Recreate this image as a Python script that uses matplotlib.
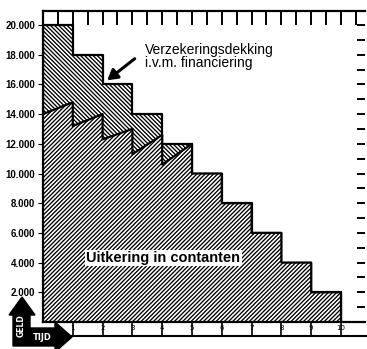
import numpy as np
import matplotlib
matplotlib.use("Agg")
import matplotlib.pyplot as plt
from matplotlib.patches import Polygon
from matplotlib.lines import Line2D

# ---- data ----
years = np.arange(0, 11)
total_cover = [20000, 18000, 16000, 14000, 12000, 10000, 8000, 6000, 4000, 2000]
cash_start = [14000, 13200, 12300, 11300, 10600, 10000, 8000, 6000, 4000, 2000]
cash_end = [14800, 14000, 13000, 12600, 12000, 10000, 8000, 6000, 4000, 2000]
ytick_vals = [2000, 4000, 6000, 8000, 10000, 12000, 14000, 16000, 18000, 20000]
ytick_labels = ["2.000", "4.000", "6.000", "8.000", "10.000", "12.000",
                "14.000", "16.000", "18.000", "20.000"]
xtick_labels = [str(i) for i in range(1, 11)]

plt.rcParams['hatch.linewidth'] = 0.95

W, H = 367, 349
fig = plt.figure(figsize=(W / 100, H / 100), dpi=100)

def fx(x):
    return x / W

def fy(y):
    return 1 - y / H

ax_l, ax_r, ax_t, ax_b = 43, 365, 11, 322
ax = fig.add_axes([fx(ax_l), fy(ax_b), (ax_r - ax_l) / W, (ax_b - ax_t) / H])
xmax = (ax_r - ax_l) / 29.8
ymax = (ax_b - ax_t) / 14.85 * 1000
ax.set_xlim(0, xmax)
ax.set_ylim(0, ymax)

# total cover staircase
tx = years
ty = total_cover + [total_cover[-1]]
ax.fill_between(tx, 0, ty, step='post', facecolor='white', edgecolor='black',
                hatch='\\' * 8, linewidth=1.6, zorder=2)

# cash value sawtooth
cx, cy = [], []
for i in range(len(cash_start)):
    cx += [years[i], years[i + 1]]
    cy += [cash_start[i], cash_end[i]]
ax.fill_between(cx, 0, cy, facecolor='white', edgecolor='black',
                hatch='/' * 8, linewidth=1.6, zorder=3)

# spines
for s in ['left', 'top', 'bottom']:
    ax.spines[s].set_linewidth(1.6)
ax.spines['right'].set_visible(False)

# y labels
ax.set_yticks(ytick_vals)
ax.set_yticklabels(ytick_labels, fontfamily='Liberation Sans', fontweight='bold', fontsize=7)
ax.tick_params(axis='y', left=False, pad=2)

# bottom ticks
ax.set_xticks(years[1:])
ax.set_xticklabels(xtick_labels, fontsize=5, fontfamily='DejaVu Sans')
ax.tick_params(axis='x', direction='out', length=10, width=1.2, pad=-8)

# top ticks
axt = ax.twiny()
axt.set_xlim(0, xmax)
axt.set_xticks(np.arange(0.5, 10.6, 0.5))
axt.tick_params(axis='x', direction='in', length=10, width=1.4, labeltop=False)
for s in axt.spines.values():
    s.set_visible(False)

# right ticks
axr = ax.twinx()
axr.set_ylim(0, ymax)
axr.set_yticks(np.arange(1000, 20001, 1000))
axr.tick_params(axis='y', direction='in', length=6, width=1.4, labelright=False)
for s in axr.spines.values():
    s.set_visible(False)

# bottom strip line
fig.add_artist(Line2D([fx(70), fx(367)], [fy(336), fy(336)], color='black', lw=1.5,
                      transform=fig.transFigure))

# annotations
ax.annotate('', xy=(2.08, 16160), xytext=(3.15, 17845),
            arrowprops=dict(arrowstyle='-|>,head_length=0.6,head_width=0.35', color='black', lw=2.2),
            zorder=5)
ax.text(3.42, 17878, "Verzekeringsdekking\ni.v.m. financiering", ha='left', va='center',
        fontsize=10, fontfamily='Liberation Sans', linespacing=0.9, zorder=5)
ax.text(4.04, 4310, "Uitkering in contanten", ha='center', va='center',
        fontsize=10.5, fontweight='bold', fontfamily='Liberation Sans', zorder=5,
        bbox=dict(facecolor='white', edgecolor='none', pad=1))

# GELD / TIJD arrows
pts = [(13, 346), (13, 315), (9, 315), (22, 297), (35, 315), (30, 315), (30, 328),
       (55, 328), (55, 322), (72, 337), (55, 352), (55, 346)]
poly = Polygon([(fx(x), fy(y)) for x, y in pts], closed=True, facecolor='black',
               edgecolor='black', transform=fig.transFigure)
fig.add_artist(poly)
fig.text(fx(21.5), fy(326), "GELD", rotation=90, color='white', fontsize=5.5,
         fontweight='bold', ha='center', va='center', fontfamily='DejaVu Sans')
fig.text(fx(42), fy(337.5), "TIJD", color='white', fontsize=6,
         fontweight='bold', ha='center', va='center', fontfamily='DejaVu Sans')

fig.savefig("out.png", dpi=100)
